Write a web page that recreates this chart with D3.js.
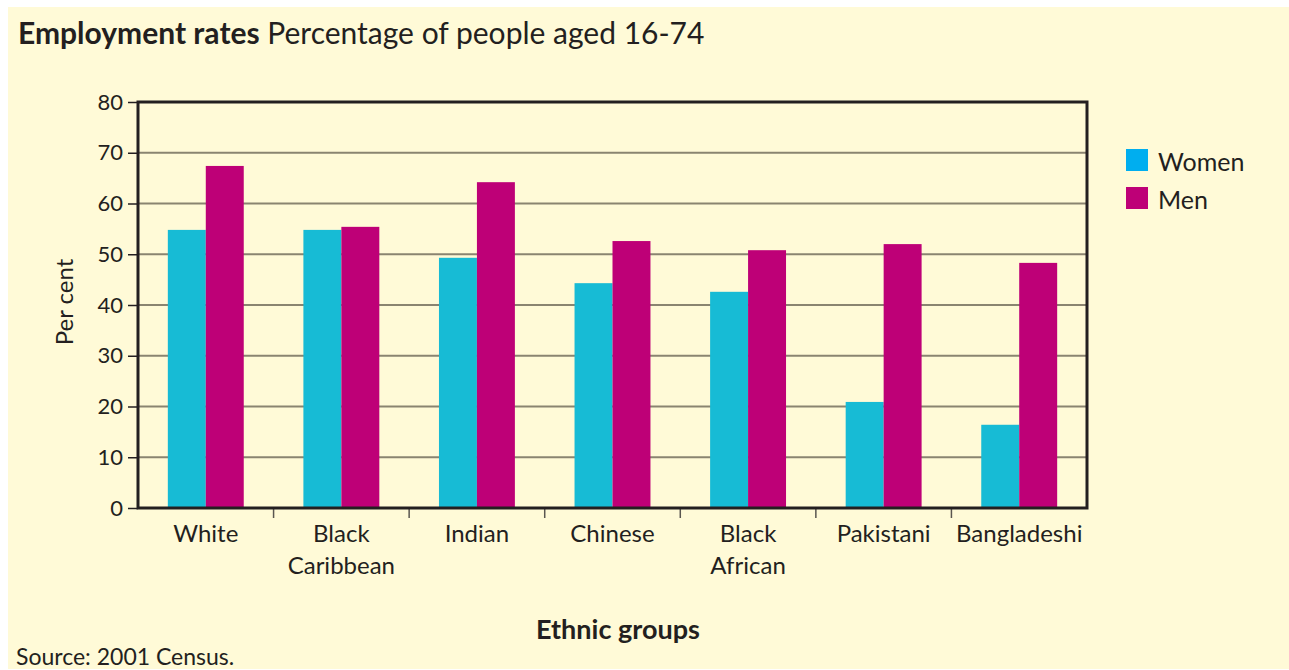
<!DOCTYPE html>
<html>
<head>
<meta charset="utf-8">
<script src="https://cdn.jsdelivr.net/npm/d3@7"></script>
<style>
  html, body { margin: 0; padding: 0; background: #ffffff; }
  svg { display: block; }
  text { font-family: Lato, "Open Sans", sans-serif; fill: #231f20; }
</style>
</head>
<body>
<svg id="chart" width="1289" height="670"></svg>
<script>
// Employment rates by ethnic group, 2001 Census (per cent of people aged 16-74)
const categories = [["White"], ["Black", "Caribbean"], ["Indian"], ["Chinese"], ["Black", "African"], ["Pakistani"], ["Bangladeshi"]];
const seriesNames = ["Women", "Men"];
const women = [54.8, 54.8, 49.3, 44.3, 42.6, 20.9, 16.4];
const men = [67.4, 55.4, 64.2, 52.6, 50.8, 52.0, 48.3];
const yTicks = [0, 10, 20, 30, 40, 50, 60, 70, 80];

const barColors = { Women: "#17bbd5", Men: "#be0077" };
const legendColors = { Women: "#00aeef", Men: "#be0077" };

const svg = d3.select("#chart");
const W = 1289, H = 670;
const plot = { left: 138, right: 1087, top: 102, bottom: 508 };

// page background
svg.append("rect").attr("x", 8).attr("y", 7).attr("width", W - 8).attr("height", 662)
  .attr("fill", "#fffad7");

const labels = categories.map(c => c.join(" "));
const rows = labels.map((l, i) => ({ label: l, lines: categories[i], Women: women[i], Men: men[i] }));

const x0 = d3.scaleBand().domain(labels).range([plot.left, plot.right])
  .paddingInner(0.44).paddingOuter(0.22);
const x1 = d3.scaleBand().domain(seriesNames).range([0, x0.bandwidth()]).padding(0);
const y = d3.scaleLinear().domain([0, 80]).range([plot.bottom, plot.top]);

// horizontal gridlines
svg.append("g").selectAll("line").data(yTicks.filter(t => t > 0 && t < 80)).join("line")
  .attr("x1", plot.left).attr("x2", plot.right)
  .attr("y1", d => y(d)).attr("y2", d => y(d))
  .attr("stroke", "#8a8470").attr("stroke-width", 2);

// bars
const groups = svg.append("g").selectAll("g").data(rows).join("g")
  .attr("transform", d => `translate(${x0(d.label)},0)`);
groups.selectAll("rect").data(d => seriesNames.map(k => ({ key: k, value: d[k] }))).join("rect")
  .attr("x", d => x1(d.key)).attr("width", x1.bandwidth())
  .attr("y", d => y(d.value)).attr("height", d => y(0) - y(d.value))
  .attr("fill", d => barColors[d.key]);

// y axis
const yAxis = svg.append("g").attr("transform", `translate(${plot.left},0)`)
  .call(d3.axisLeft(y).tickValues(yTicks).tickSize(10).tickPadding(5));
yAxis.select(".domain").remove();
yAxis.selectAll(".tick line").attr("stroke", "#231f20").attr("stroke-width", 1.5);
yAxis.selectAll(".tick text").attr("font-size", 22).attr("fill", "#231f20")
  .attr("font-family", "Lato, sans-serif");

// x axis separators between categories
const sep = labels.slice(1).map(l => x0(l) - x0.step() * x0.paddingInner() / 2);
svg.append("g").selectAll("line").data(sep).join("line")
  .attr("x1", d => d).attr("x2", d => d)
  .attr("y1", plot.bottom).attr("y2", plot.bottom + 10)
  .attr("stroke", "#5a5650").attr("stroke-width", 1.5);

// frame
svg.append("rect").attr("x", plot.left).attr("y", plot.top)
  .attr("width", plot.right - plot.left).attr("height", plot.bottom - plot.top)
  .attr("fill", "none").attr("stroke", "#231f20").attr("stroke-width", 3);

// category labels
const catText = svg.append("g").selectAll("text").data(rows).join("text")
  .attr("x", d => x0(d.label) + x0.bandwidth() / 2)
  .attr("y", 542)
  .attr("text-anchor", "middle").attr("font-size", 24);
catText.selectAll("tspan").data(d => d.lines).join("tspan")
  .attr("x", function () { return d3.select(this.parentNode).attr("x"); })
  .attr("dy", (d, i) => i === 0 ? 0 : 32)
  .text(d => d);

// axis titles
svg.append("text").attr("transform", `translate(73,${(plot.top + plot.bottom) / 2 - 3}) rotate(-90)`)
  .attr("text-anchor", "middle").attr("font-size", 24).text("Per cent");
svg.append("text").attr("x", 618).attr("y", 639).attr("text-anchor", "middle")
  .attr("font-size", 27).attr("font-weight", "bold").text("Ethnic groups");

// title
const title = svg.append("text").attr("x", 18).attr("y", 44).attr("font-size", 30);
title.append("tspan").attr("font-weight", "bold").text("Employment rates");
title.append("tspan").text(" Percentage of people aged 16-74");

// legend
const legend = svg.append("g").selectAll("g").data(seriesNames).join("g")
  .attr("transform", (d, i) => `translate(1126,${149 + i * 38})`);
legend.append("rect").attr("width", 22).attr("height", 22).attr("fill", d => legendColors[d]);
legend.append("text").attr("x", 32).attr("y", 22).attr("font-size", 25).text(d => d);

// source note
svg.append("text").attr("x", 16).attr("y", 665).attr("font-size", 23).text("Source: 2001 Census.");
</script>
</body>
</html>
